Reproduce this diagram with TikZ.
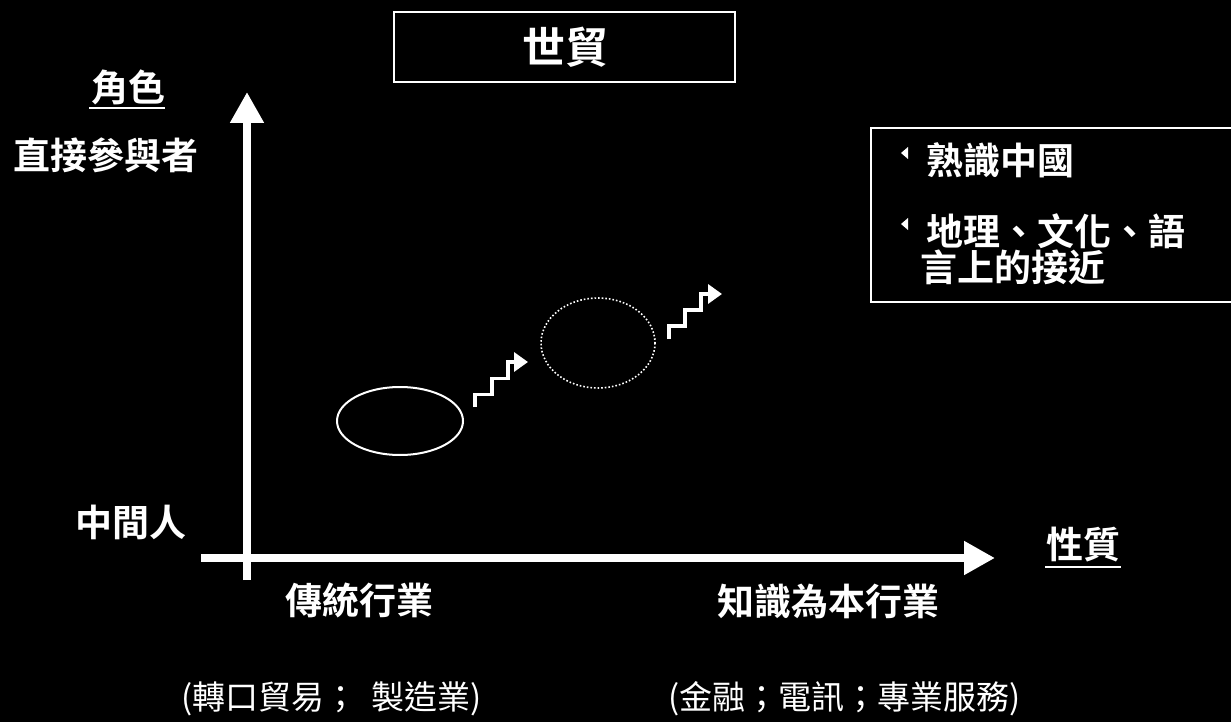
\documentclass[tikz,border=0pt]{standalone}
\usepackage{fontspec}
\newfontfamily\cjk{Noto Sans CJK TC}[BoldFont={Noto Sans CJK TC Bold}]
\usetikzlibrary{arrows.meta}
\tikzset{
  lbl/.style={text=white,inner sep=0pt,font=\cjk\bfseries\fontsize{37}{42}\selectfont},
  sub/.style={text=white,inner sep=0pt,font=\cjk\fontsize{33}{36}\selectfont},
  axis/.style={white,line width=8pt,-{Triangle[length=31pt,width=32pt]}},
  stair/.style={white,line width=3.4pt,miter limit=10,-{Triangle[length=14pt,width=19pt]}},
  frame/.style={white,line width=1.5pt},
  uline/.style={white,line width=2pt},
}
\begin{document}
\begin{tikzpicture}[x=1pt,y=-1pt]
\fill[black] (0,0) rectangle (1231,722);
\useasboundingbox (0,0) rectangle (1231,722);
% title
\node[frame,draw,minimum width=341pt,minimum height=70pt,inner sep=0pt] (titlebox) at (564.5,47) {};
\node[lbl,font=\cjk\bfseries\fontsize{43}{46}\selectfont] (title) at (565,47) {世貿};
% axes
\coordinate (vb) at (247,580);
\coordinate (vt) at (247,92);
\coordinate (hl) at (201,558);
\coordinate (hr) at (995,558);
\draw[axis] (vb) -- (vt);
\draw[axis] (hl) -- (hr);
% axis labels
\node[lbl] (role) at (128,87) {角色};
\draw[uline] (89,108) coordinate (rl1) -- (165,108) coordinate (rl2);
\node[lbl] (direct) at (106,155) {直接參與者};
\node[lbl] (middle) at (131,522) {中間人};
\node[lbl] (nature) at (1083,545) {性質};
\draw[uline] (1045,567) coordinate (nl1) -- (1121,567) coordinate (nl2);
\node[lbl] (trad) at (359,600) {傳統行業};
\node[lbl] (know) at (828,601) {知識為本行業};
\node[sub,anchor=west] (sub1) at (181,699) {(轉口貿易；\hspace{14pt}製造業)};
\node[sub,anchor=east] (sub2) at (1021,699) {(金融；電訊；專業服務)};
% ellipses
\draw[white,line width=2pt] (400,421) ellipse [x radius=63, y radius=34];
\draw[white,dotted,line width=1.6pt] (598,343) ellipse [x radius=57, y radius=45];
% stairs
\coordinate (s1) at (475,407);
\coordinate (e1) at (528,362);
\draw[stair] (s1) -- (475,394.5) -- (492,394.5) -- (492,378.5) -- (508,378.5) -- (508,362) -- (e1);
\coordinate (s2) at (669,339);
\coordinate (e2) at (722,294);
\draw[stair] (s2) -- (669,326) -- (685,326) -- (685,310) -- (701,310) -- (701,294) -- (e2);
% right box
\draw[frame] (1233,128) -- (871,128) -- (871,302) -- (1233,302);
\fill[white] (908,147) -- (908,159) -- (901,153) -- cycle;
\fill[white] (908,218) -- (908,230) -- (901,224) -- cycle;
\node[lbl,anchor=west] (b1) at (926,160) {熟識中國};
\node[lbl,anchor=west] (b2) at (926,231) {地理、文化、語};
\node[lbl,anchor=west] (b3) at (920,267) {言上的接近};
\end{tikzpicture}
\end{document}
